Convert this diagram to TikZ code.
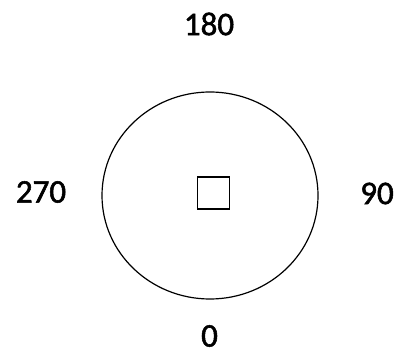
\documentclass[tikz,border=0pt]{standalone}
\usepackage{fontspec}
\setmainfont{Carlito}[FakeBold=1.6]
\usetikzlibrary{shapes.geometric}

\begin{document}
\begin{tikzpicture}[
    x=1pt, y=-1pt,
    every node/.style={text=black},
    dirlabel/.style={font=\fontsize{33}{33}\selectfont, inner sep=0pt, anchor=center},
    dialnode/.style={ellipse, draw=black, line width=1.2pt, minimum width=216pt, minimum height=207pt, inner sep=0pt},
    centerbox/.style={rectangle, draw=black, line width=1.4pt, minimum width=32pt, minimum height=32pt, inner sep=0pt},
  ]

  % Canvas
  \useasboundingbox (0,0) rectangle (398,352);

  % Dial with center square
  \node[dialnode] (dial) at (210,195.5) {};
  \node[centerbox] (center) at (213.5,193) {};

  % Direction labels
  \node[dirlabel] (top) at (209,24) {180};
  \node[dirlabel] (right) at (377,193.5) {90};
  \node[dirlabel] (bottom) at (209.5,336) {0};
  \node[dirlabel] (left) at (41,192) {270};

\end{tikzpicture}
\end{document}
